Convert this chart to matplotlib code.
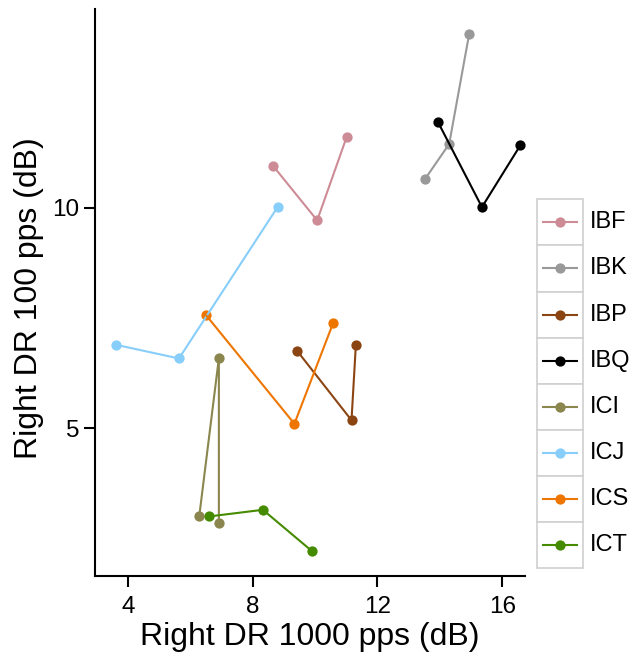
import matplotlib
matplotlib.use("Agg")
import matplotlib.pyplot as plt
from matplotlib.patches import Rectangle

plt.rcParams['font.family'] = ['Liberation Sans', 'DejaVu Sans']

# Subject IDs and their colours
subjects = ["IBF", "IBK", "IBP", "IBQ", "ICI", "ICJ", "ICS", "ICT"]
colors = ["#CD8C95", "#999999", "#8B4513", "#000000",
          "#8B864E", "#87CEFA", "#EE7600", "#458B00"]

# Right-ear dynamic range (dB) at 1000 pps (x) and 100 pps (y), per subject
dr_1000 = {
    "IBF": [8.65, 10.07, 11.01],
    "IBK": [13.52, 14.30, 14.94],
    "IBP": [9.43, 11.17, 11.31],
    "IBQ": [13.94, 15.35, 16.58],
    "ICI": [6.29, 6.92, 6.92],
    "ICJ": [3.62, 5.64, 8.81],
    "ICS": [6.51, 9.34, 10.58],
    "ICT": [6.61, 8.33, 9.91],
}
dr_100 = {
    "IBF": [10.95, 9.71, 11.59],
    "IBK": [10.64, 11.44, 13.93],
    "IBP": [6.75, 5.18, 6.89],
    "IBQ": [11.94, 10.01, 11.41],
    "ICI": [3.00, 6.59, 2.84],
    "ICJ": [6.89, 6.58, 10.02],
    "ICS": [7.56, 5.10, 7.38],
    "ICT": [3.00, 3.15, 2.21],
}

x_ticks = [4, 8, 12, 16]
y_ticks = [5, 10]

W, H = 637, 660
fig = plt.figure(figsize=(W / 100, H / 100), dpi=100)


def px_box(x0, y0, x1, y1):
    return [x0 / W, 1 - y1 / H, (x1 - x0) / W, (y1 - y0) / H]


ax = fig.add_axes(px_box(95, 9, 525, 576))

lw = 1.5
ms = 7.4
for name, col in zip(subjects, colors):
    xs, ys = dr_1000[name], dr_100[name]
    ax.plot(xs, ys, linestyle="none", marker="o", ms=ms, color=col,
            markeredgewidth=0, zorder=2)
for name, col in zip(subjects, colors):
    ax.plot(dr_1000[name], dr_100[name], color=col, lw=lw, zorder=3,
            solid_capstyle="butt")

ax.set_xlim(2.95, 16.73)
ax.set_ylim(1.65, 14.5)
ax.set_xticks(x_ticks)
ax.set_yticks(y_ticks)
ax.set_xticklabels([str(v) for v in x_ticks])
ax.set_yticklabels([str(v) for v in y_ticks])

for side in ("top", "right"):
    ax.spines[side].set_visible(False)
for side in ("left", "bottom"):
    ax.spines[side].set_linewidth(1.5)
    ax.spines[side].set_color("black")

ax.tick_params(axis="both", length=8, width=1.5, colors="black",
               labelsize=17.5)
ax.tick_params(axis="x", pad=6.5)
ax.tick_params(axis="y", pad=3)

ax.set_xlabel("Right DR 1000 pps (dB)", fontsize=23)
ax.set_ylabel("Right DR 100 pps (dB)", fontsize=23)
ax.xaxis.set_label_coords(0.5, -0.082)
ax.yaxis.set_label_coords(-0.118, 0.49)

# Legend: one bordered key per subject, stacked vertically
lx0, ly0, lx1, ly1 = 536.7, 199.3, 583.3, 568.3
lax = fig.add_axes(px_box(lx0, ly0, lx1, ly1))
lax.set_xlim(0, 1)
lax.set_ylim(len(subjects), 0)
lax.axis("off")
label_x = (590 - lx0) / (lx1 - lx0)
for i, (name, col) in enumerate(zip(subjects, colors)):
    lax.add_patch(Rectangle((0, i), 1, 1, facecolor="white",
                            edgecolor="#D0D0D0", lw=1.2, clip_on=False))
    lax.plot([0.11, 0.89], [i + 0.5, i + 0.5], color=col, lw=lw,
             solid_capstyle="butt", clip_on=False)
    lax.plot([0.5], [i + 0.5], marker="o", ms=ms, color=col,
             markeredgewidth=0, clip_on=False)
    lax.text(label_x, i + 0.5, name, fontsize=17, va="center", ha="left",
             clip_on=False)

fig.savefig("out.png", dpi=100)
